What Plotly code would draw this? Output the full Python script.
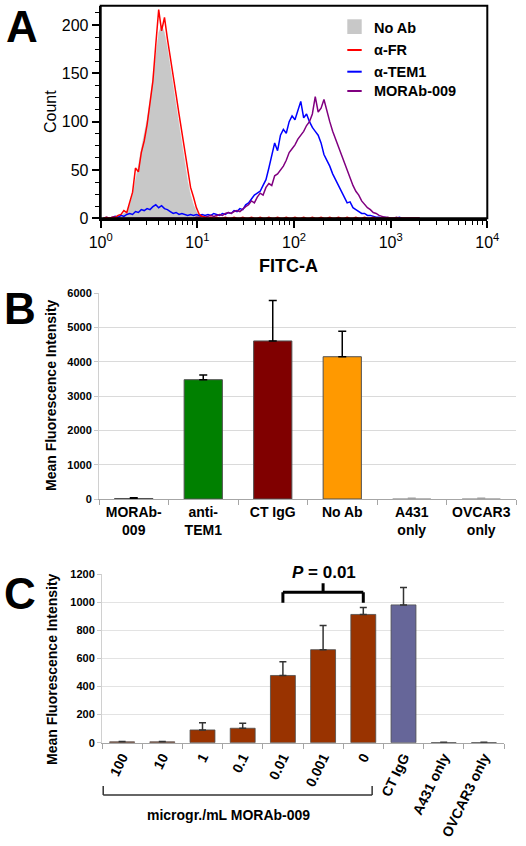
import numpy as np
import plotly.graph_objects as go

# ---------------- Panel A data (flow cytometry histograms) ----------------
fitc_log = [
    0.03, 0.06, 0.09, 0.12, 0.15, 0.18, 0.21, 0.24, 0.27, 0.30,
    0.33, 0.36, 0.39, 0.42, 0.45, 0.48, 0.51, 0.54, 0.57, 0.60,
    0.63, 0.66, 0.69, 0.72, 0.75, 0.78, 0.81, 0.84, 0.87, 0.90,
    0.93, 0.96, 0.99, 1.02, 1.05, 1.08, 1.11, 1.14, 1.17, 1.20,
    1.23, 1.26, 1.29, 1.32, 1.35, 1.38, 1.41, 1.44, 1.47, 1.50,
    1.53, 1.56, 1.59, 1.62, 1.65, 1.68, 1.71, 1.74, 1.77, 1.80,
    1.83, 1.86, 1.89, 1.92, 1.95, 1.98, 2.01, 2.04, 2.07, 2.10,
    2.13, 2.16, 2.19, 2.22, 2.25, 2.28, 2.31, 2.34, 2.37, 2.40,
    2.43, 2.46, 2.49, 2.52, 2.55, 2.58, 2.61, 2.64, 2.67, 2.70,
    2.73, 2.76, 2.79, 2.82, 2.85, 2.88, 2.91, 2.94, 2.97, 3.00,
    3.03, 3.06, 3.09, 3.12, 3.15, 3.18, 3.21, 3.24, 3.27, 3.30,
]
count_no_ab = [
    0, 0, 0, 0, 1, 2, 3, 5, 7, 14,
    25, 40, 54, 72, 86, 102, 122, 146, 170, 192,
    200, 192, 176, 156, 136, 116, 96, 76, 56, 38,
    24, 14, 7, 3, 1, 0, 0, 0, 0, 0,
    0, 0, 0, 0, 0, 0, 0, 0, 0, 0,
    0, 0, 0, 0, 0, 0, 0, 0, 0, 0,
    0, 0, 0, 0, 0, 0, 0, 0, 0, 0,
    0, 0, 0, 0, 0, 0, 0, 0, 0, 0,
    0, 0, 0, 0, 0, 0, 0, 0, 0, 0,
    0, 0, 0, 0, 0, 0, 0, 0, 0, 0,
    0, 0, 0, 0, 0, 0, 0, 0, 0, 0,
]
count_a_fr = [
    0, 1, 0, 1, 1, 3, 4, 8, 6, 18,
    27, 52, 48, 68, 80, 97, 118, 142, 180, 216,
    194, 208, 186, 168, 150, 128, 108, 90, 68, 50,
    32, 22, 11, 4, 2, 1, 0, 1, 0, 1,
    0, 0, 1, 0, 0, 1, 0, 0, 1, 0,
    0, 1, 0, 0, 1, 0, 0, 1, 0, 0,
    1, 0, 0, 1, 0, 0, 1, 0, 0, 1,
    0, 0, 1, 0, 0, 1, 0, 0, 1, 0,
    0, 1, 0, 0, 1, 0, 0, 1, 0, 0,
    1, 0, 0, 1, 0, 0, 0, 0, 0, 0,
    0, 0, 0, 0, 0, 0, 0, 0, 0, 0,
]
count_a_tem1 = [
    0, 1, 0, 1, 2, 1, 3, 2, 4, 5,
    4, 7, 6, 9, 8, 10, 9, 12, 14, 11,
    13, 10, 9, 7, 5, 6, 4, 5, 4, 3,
    4, 3, 4, 3, 4, 3, 4, 3, 5, 4,
    3, 5, 4, 6, 5, 8, 7, 10, 9, 14,
    16, 20, 24, 26, 28, 34, 40, 52, 64, 78,
    70, 86, 92, 88, 100, 106, 102, 112, 121, 104,
    108, 100, 94, 90, 86, 78, 66, 60, 54, 46,
    40, 34, 28, 21, 16, 17, 11, 9, 7, 5,
    5, 3, 3, 2, 1, 1, 0, 1, 0, 0,
    0, 0, 1, 0, 0, 0, 0, 0, 0, 0,
]
count_morab = [
    0, 0, 0, 0, 0, 0, 0, 0, 0, 0,
    0, 0, 0, 0, 0, 0, 0, 0, 0, 0,
    0, 0, 0, 0, 0, 0, 0, 0, 0, 0,
    0, 0, 1, 1, 2, 1, 2, 3, 2, 3,
    4, 3, 5, 6, 5, 7, 8, 7, 10, 12,
    14, 18, 16, 22, 26, 24, 32, 36, 34, 44,
    46, 50, 54, 60, 68, 72, 76, 82, 86, 90,
    96, 100, 108, 126, 110, 114, 123, 110, 100, 90,
    82, 74, 66, 56, 48, 42, 34, 28, 24, 18,
    14, 11, 9, 6, 5, 3, 2, 1, 1, 0,
    0, 1, 0, 0, 0, 0, 0, 0, 0, 0,
]
a_series_names = ["No Ab", "\u03b1-FR", "\u03b1-TEM1", "MORAb-009"]
a_x_tickvals = [1, 10, 100, 1000, 10000]
a_x_ticktext = ["10<sup>0</sup>", "10<sup>1</sup>", "10<sup>2</sup>", "10<sup>3</sup>", "10<sup>4</sup>"]
a_y_tickvals = [0, 50, 100, 150, 200]

# ---------------- Panel B data ----------------
b_categories = ["MORAb-009", "anti-TEM1", "CT IgG", "No Ab", "A431 only", "OVCAR3 only"]
b_ticklabels = ["MORAb-<br>009", "anti-<br>TEM1", "CT IgG", "No Ab", "A431<br>only", "OVCAR3<br>only"]
b_values = [15, 3480, 4610, 4150, 10, 10]
b_errors = [20, 135, 1180, 740, 15, 15]

# ---------------- Panel C data ----------------
c_categories = ["100", "10", "1", "0.1", "0.01", "0.001", "0", "CT IgG", "A431 only", "OVCAR3 only"]
c_values = [6, 6, 91, 103, 479, 663, 914, 982, 1, 1]
c_errors = [3, 3, 52, 36, 98, 172, 50, 124, 2, 2]
c_pvalue_text = "<i>P</i> = 0.01"

# ---------------- styling ----------------
W, H = 526, 846
FONT = "Liberation Sans, Arial, sans-serif"


def fx(p):
    return p / W


def fy(p):
    return 1 - p / H


fig = go.Figure()

x_fitc = np.power(10.0, np.array(fitc_log))

fig.add_trace(go.Scatter(x=x_fitc, y=count_no_ab, mode="lines", fill="tozeroy",
                         fillcolor="#C8C8C8", line=dict(color="#C8C8C8", width=0.5),
                         name=a_series_names[0], xaxis="x", yaxis="y",
                         showlegend=False, hoverinfo="skip"))
fig.add_trace(go.Scatter(x=x_fitc, y=count_a_tem1, mode="lines",
                         line=dict(color="#0000FF", width=1.5),
                         name=a_series_names[2], xaxis="x", yaxis="y", showlegend=False))
fig.add_trace(go.Scatter(x=x_fitc, y=count_morab, mode="lines",
                         line=dict(color="#800080", width=1.5),
                         name=a_series_names[3], xaxis="x", yaxis="y", showlegend=False))
fig.add_trace(go.Scatter(x=x_fitc, y=count_a_fr, mode="lines",
                         line=dict(color="#FF0000", width=1.5),
                         name=a_series_names[1], xaxis="x", yaxis="y", showlegend=False))

# Panel B bars
b_colors = ["#1a1a1a", "#008000", "#800000", "#FF9900", "#A0A0A0", "#A0A0A0"]
fig.add_trace(go.Bar(x=b_categories[:4], y=b_values[:4], width=0.55,
                     marker=dict(color=b_colors[:4], line=dict(color="#505050", width=1)),
                     error_y=dict(type="data", symmetric=False, array=b_errors[:4],
                                  arrayminus=[0] * 4, color="black", thickness=1.5, width=4),
                     xaxis="x2", yaxis="y2", showlegend=False))
fig.add_trace(go.Bar(x=b_categories[4:], y=b_values[4:], width=0.55,
                     marker=dict(color=b_colors[4:], line=dict(color="#A0A0A0", width=0)),
                     error_y=dict(type="data", symmetric=False, array=b_errors[4:],
                                  arrayminus=[0] * 2, color="#A0A0A0", thickness=1.5, width=4),
                     xaxis="x2", yaxis="y2", showlegend=False))

# Panel C bars
c_colors = ["#993300"] * 7 + ["#666699", "#555555", "#555555"]
fig.add_trace(go.Bar(x=c_categories, y=c_values, width=0.62,
                     marker=dict(color=c_colors, line=dict(color="#4d4d4d", width=0.8)),
                     error_y=dict(type="data", symmetric=False, array=c_errors,
                                  arrayminus=[0] * len(c_errors), color="#333333",
                                  thickness=1.5, width=3.5),
                     xaxis="x3", yaxis="y3", showlegend=False))

black_font = dict(family=FONT, color="black")

fig.update_layout(
    width=W, height=H, margin=dict(l=0, r=0, t=0, b=0),
    paper_bgcolor="white", plot_bgcolor="white", barmode="overlay",
    font=dict(family=FONT, color="black"),
    xaxis=dict(type="log", domain=[fx(100.7), fx(487.3)], range=[0, 4], anchor="y",
               tickmode="array", tickvals=a_x_tickvals, ticktext=a_x_ticktext,
               ticks="outside", ticklen=7, tickwidth=1.5, tickcolor="black",
               minor=dict(tickmode="array",
                          tickvals=[m * d for d in (1, 10, 100, 1000) for m in range(2, 10)],
                          ticks="outside", ticklen=4, tickwidth=1, tickcolor="black"),
               showline=True, linewidth=3, linecolor="black", showgrid=False, zeroline=False,
               tickfont=dict(size=16, **black_font), automargin=False),
    yaxis=dict(domain=[fy(218.3), fy(5.7)], range=[0, 220], anchor="x",
               tickmode="array", tickvals=a_y_tickvals,
               ticks="outside", ticklen=7, tickwidth=1.5, tickcolor="black",
               minor=dict(tick0=0, dtick=12.5, ticks="outside", ticklen=4, tickwidth=1,
                          tickcolor="black"),
               showline=True, linewidth=2, linecolor="black", showgrid=False, zeroline=False,
               tickfont=dict(size=16, **black_font), automargin=False),
    xaxis2=dict(domain=[fx(99), fx(516)], anchor="y2", type="category",
                categoryorder="array", categoryarray=b_categories,
                tickmode="array", tickvals=b_categories, ticktext=b_ticklabels,
                ticks="outside", tickson="boundaries", ticklen=5, tickcolor="#A6A6A6",
                showline=True, linecolor="#A6A6A6", linewidth=1, showgrid=False,
                tickfont=dict(size=14, weight="bold", **black_font), automargin=False),
    yaxis2=dict(domain=[fy(499), fy(293.3)], anchor="x2", range=[0, 6000], dtick=1000,
                showgrid=True, gridcolor="#DADADA", ticks="outside", ticklen=4,
                tickcolor="#C8C8C8", showline=True, linecolor="#D0D0D0", zeroline=False,
                tickfont=dict(size=11, weight="bold", **black_font), automargin=False),
    xaxis3=dict(domain=[fx(102), fx(504)], anchor="y3", type="category",
                categoryorder="array", categoryarray=c_categories,
                tickangle=-64, ticks="outside", tickson="boundaries", ticklen=5,
                tickcolor="#A6A6A6", showline=True, linecolor="#A6A6A6", linewidth=1,
                showgrid=False,
                tickfont=dict(size=14, weight="bold", **black_font), automargin=False),
    yaxis3=dict(domain=[fy(742.7), fy(574.3)], anchor="x3", range=[0, 1200], dtick=200,
                showgrid=True, gridcolor="#E3E3E3", ticks="outside", ticklen=4,
                tickcolor="#C8C8C8", showline=True, linecolor="#D0D0D0", zeroline=False,
                tickfont=dict(size=11, weight="bold", **black_font), automargin=False),
)

shapes = []
# frame of panel A
shapes.append(dict(type="rect", xref="x domain", yref="y domain", x0=0, x1=1, y0=0, y1=1,
                   line=dict(color="black", width=2), layer="above"))
# legend of panel A
leg_x0, leg_x1 = fx(347.3), fx(361.7)
shapes.append(dict(type="rect", xref="paper", yref="paper", x0=leg_x0, x1=leg_x1,
                   y0=fy(34), y1=fy(19.3), fillcolor="#C8C8C8", line=dict(width=0)))
for ypx, col in [(50, "#FF0000"), (71.7, "#0000FF"), (91, "#800080")]:
    shapes.append(dict(type="line", xref="paper", yref="paper", x0=leg_x0, x1=leg_x1,
                       y0=fy(ypx), y1=fy(ypx), line=dict(color=col, width=2)))
# white gap in the top gridline of panel C behind the P value
shapes.append(dict(type="rect", xref="paper", yref="paper", x0=fx(285), x1=fx(363),
                   y0=fy(580), y1=fy(566), fillcolor="white", line=dict(width=0),
                   layer="above"))
# P-value bracket (from 0.01 bar to 0 bar)
br = dict(color="black", width=3)
shapes.append(dict(type="line", xref="x3", yref="y3", x0=4, x1=6, y0=1072, y1=1072, line=br))
shapes.append(dict(type="line", xref="x3", yref="y3", x0=4, x1=4, y0=998, y1=1072, line=br))
shapes.append(dict(type="line", xref="x3", yref="y3", x0=6, x1=6, y0=998, y1=1072, line=br))
shapes.append(dict(type="line", xref="x3", yref="y3", x0=5, x1=5, y0=1072, y1=1136, line=br))
# concentration bracket under panel C labels
bb = dict(color="#333333", width=1.5)
shapes.append(dict(type="line", xref="x3", yref="paper", x0=-0.47, x1=6.22,
                   y0=fy(795), y1=fy(795), line=bb))
shapes.append(dict(type="line", xref="x3", yref="paper", x0=-0.47, x1=-0.47,
                   y0=fy(795), y1=fy(786), line=bb))
shapes.append(dict(type="line", xref="x3", yref="paper", x0=6.22, x1=6.22,
                   y0=fy(795), y1=fy(786), line=bb))
fig.update_layout(shapes=shapes)

ann = []


def add_text(text, xpx, ypx, size, bold=False, angle=0, xanchor="center"):
    f = dict(family=FONT, size=size, color="black")
    if bold:
        f["weight"] = "bold"
    ann.append(dict(text=text, x=fx(xpx), y=fy(ypx), xref="paper", yref="paper",
                    showarrow=False, font=f, textangle=angle, xanchor=xanchor,
                    yanchor="middle"))


# panel letters
add_text("A", 22, 27, 44, bold=True)
add_text("B", 20, 308, 44, bold=True)
add_text("C", 20, 593, 44, bold=True)
# panel A axis titles
add_text("Count", 51, 112, 16, angle=-90)
add_text("FITC-A", 288, 266, 18, bold=True)
# panel A legend text
for name, ypx in zip(a_series_names, [28.3, 50, 71.7, 91]):
    add_text(name, 371.7, ypx, 14.5, bold=True, xanchor="left")
# panel B / C y titles
add_text("Mean Fluorescence Intensity", 51, 395, 14, bold=True, angle=-90)
add_text("Mean Fluorescence Intensity", 52, 669, 14, bold=True, angle=-90)
# P value
add_text(c_pvalue_text, 324, 572, 17, bold=True)
# concentration label
add_text("microgr./mL MORAb-009", 228, 815, 14, bold=True)
fig.update_layout(annotations=ann)

fig.write_html(
    "out.html",
    config={"displayModeBar": False},
    post_script="document.body.style.margin='0px';document.body.style.padding='0px';"
                "document.body.style.overflow='hidden';",
)
